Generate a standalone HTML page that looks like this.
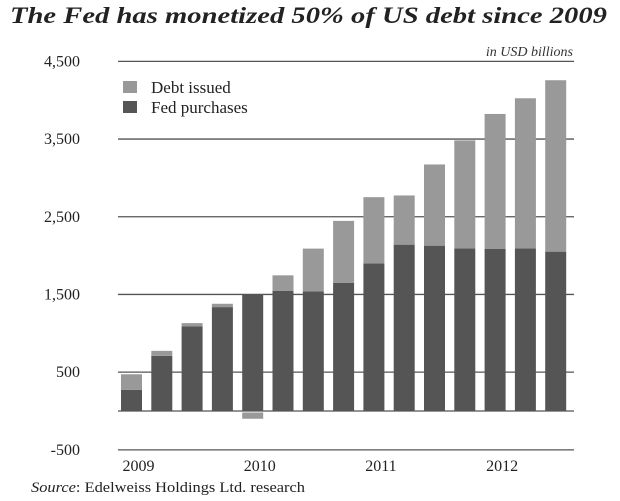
<!DOCTYPE html>
<html><head><meta charset="utf-8"><style>
body{margin:0;background:#fff;}
svg{display:block;font-family:"Liberation Serif",serif;}
</style></head><body>
<svg id="chart" width="620" height="501" viewBox="0 0 620 501">
<text x="10" y="23" font-size="23" font-weight="bold" font-style="italic" fill="#222" textLength="597" lengthAdjust="spacingAndGlyphs">The Fed has monetized 50% of US debt since 2009</text>
<text x="573" y="56" font-size="14" font-style="italic" text-anchor="end" fill="#333">in USD billions</text>
<g id="grid"></g>
<g id="bars"></g>
<g id="yticks"></g>
<g id="xticks"></g>
<rect x="123" y="81" width="14" height="12" fill="#999"/>
<text x="151" y="93" font-size="17" fill="#222">Debt issued</text>
<rect x="123" y="101" width="14" height="12" fill="#555"/>
<text x="151" y="113" font-size="17" fill="#222">Fed purchases</text>
<text x="31" y="492" font-size="15" fill="#222" textLength="274" lengthAdjust="spacingAndGlyphs"><tspan font-style="italic">Source</tspan>: Edelweiss Holdings Ltd. research</text>
</svg>
<script>
const fedPurchases=[271,710,1088,1337,1505,1548,1539,1651,1900,2141,2128,2094,2085,2094,2051];
const debtExcess=[202,64,43,43,-100,198,551,796,852,633,1045,1389,1738,1931,2206];
const yTicks=[4500,3500,2500,1500,500,-500];
const yTickLabels=["4,500","3,500","2,500","1,500","500","-500"];
const xYears=["2009","2010","2011","2012"];
const xYearPos=[0.33,4.33,8.33,12.33];
const NS="http://www.w3.org/2000/svg";
function y(v){return 411-v*0.0777;}
function xb(i){return 121+i*30.3;}
function mk(tag,attrs,parent){const e=document.createElementNS(NS,tag);for(const k in attrs)e.setAttribute(k,attrs[k]);document.getElementById(parent).appendChild(e);return e;}
yTicks.forEach((t,i)=>{
  const l=mk('line',{x1:118,x2:574,y1:y(t),y2:y(t),stroke:'#555','stroke-width':1.3},'grid');
  
  
  const tx=mk('text',{x:80,y:y(t)+5,'font-size':16,'text-anchor':'end',fill:'#222'},'yticks');
  tx.textContent=yTickLabels[i];
  
  
});
const b0=mk('line',{x1:118,x2:574,y1:y(0),y2:y(0),stroke:'#555','stroke-width':1.3},'grid');


fedPurchases.forEach((f,i)=>{
  const r=mk('rect',{x:xb(i),y:y(f),width:21,height:y(0)-y(f),fill:'#555'},'bars');
  
  
  const e=debtExcess[i];
  let top,bot;
  if(e>=0){top=y(f+e);bot=y(f);}else{top=y(0)+1.5;bot=y(e);}
  const r2=mk('rect',{x:xb(i),y:top,width:21,height:Math.max(0,bot-top),fill:'#999'},'bars');
  
  
});
xYears.forEach((yr,i)=>{
  const t=mk('text',{x:xb(xYearPos[i])+10.5-3,y:471,'font-size':16,'text-anchor':'middle',fill:'#222'},'xticks');
  t.textContent=yr;
  
  
});
</script>
</body></html>
